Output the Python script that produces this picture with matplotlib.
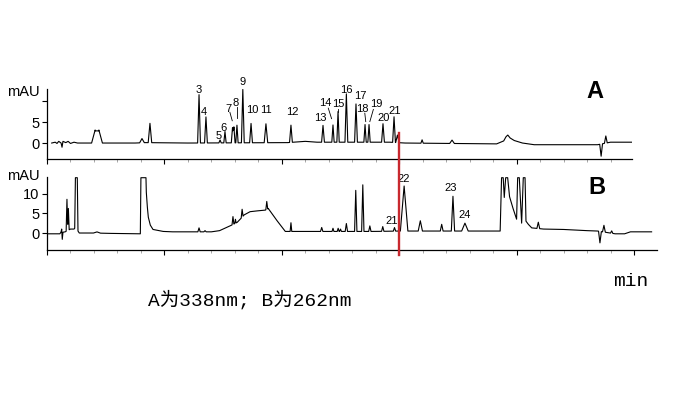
import numpy as np
import matplotlib
matplotlib.use("Agg")
import matplotlib.pyplot as plt
from matplotlib.lines import Line2D
from matplotlib.ticker import MultipleLocator
from matplotlib.transforms import blended_transform_factory

# ---- panel A (338 nm): baseline knots (min, mAU) and peaks (time, height, half width)
a_base_t = [0.40, 0.70, 0.85, 1.00, 1.20, 1.28, 1.36, 1.60, 1.80, 2.00, 2.30, 2.60,
            3.00, 7.50, 8.40, 12.0, 20.5, 22.0, 23.0, 29.2, 30.5, 38.3, 38.9, 39.1,
            39.25, 39.45, 39.8, 40.5, 41.5, 46.9, 48.0, 49.8]
a_base_v = [0.0, 0.2, -0.1, 0.4, 0.0, -1.0, 0.4, 0.1, 0.4, -0.1, 0.2, 0.0,
            0.0, 0.0, 0.1, 0.0, 0.1, 0.4, 0.2, 0.2, 0.0, -0.2, 0.5, 1.5,
            1.9, 1.2, 0.6, 0.0, -0.4, -0.4, 0.2, 0.2]
a_peak_t = [4.10, 4.42, 8.09, 8.77, 12.95, 13.54, 14.74, 15.16, 15.80, 15.92, 16.18,
            16.68, 17.38, 18.65, 20.78, 23.51, 24.36, 24.79, 25.50, 26.32, 27.09,
            27.43, 28.62, 29.56, 29.85, 31.95, 34.50, 47.20, 47.60]
a_peak_h = [3.1, 3.1, 1.0, 4.6, 11.5, 6.2, 0.7, 2.7, 3.6, 3.8, 4.2,
            12.7, 4.6, 4.5, 4.1, 4.0, 4.1, 7.3, 11.5, 9.1, 4.2,
            4.2, 4.4, 6.1, 1.8, 0.8, 0.8, -2.9, 1.7]
a_peak_w = [0.30, 0.30, 0.20, 0.15, 0.12, 0.12, 0.10, 0.10, 0.10, 0.10, 0.10,
            0.12, 0.12, 0.15, 0.12, 0.12, 0.10, 0.10, 0.12, 0.12, 0.10,
            0.10, 0.12, 0.12, 0.15, 0.10, 0.20, 0.12, 0.12]

# ---- panel B (262 nm)
b_base_t = [0.00, 1.10, 1.20, 1.25, 1.30, 1.36, 1.55, 2.00, 2.30, 2.36, 2.42, 2.58,
            2.64, 2.75, 4.00, 5.50, 7.90, 7.95, 8.00, 8.43, 8.46, 8.55, 8.63, 8.80,
            9.03, 9.90, 10.70, 14.00, 14.70, 15.60, 16.20, 16.40, 16.80, 17.30, 17.90,
            18.60, 18.85, 19.60, 20.30, 28.00, 30.00, 38.60, 38.72, 38.86, 38.95,
            39.07, 39.24, 39.40, 39.70, 40.00, 40.09, 40.23, 40.43, 40.57, 40.72,
            40.80, 41.00, 41.29, 42.30, 44.00, 46.00, 46.90, 48.40, 49.20, 49.70, 51.50]
b_base_v = [-0.2, -0.2, 0.3, 1.0, -1.6, 0.2, 0.3, 1.0, 1.0, 1.2, 14.0, 14.0,
            0.5, 0.0, 0.0, -0.1, -0.2, -0.2, 14.0, 14.0, 10.3, 6.5, 4.0, 2.0,
            0.9, 0.4, 0.3, 0.3, 0.6, 1.8, 2.7, 3.3, 4.6, 5.4, 5.6,
            5.8, 6.2, 3.1, 0.4, 0.4, 0.5, 0.5, 14.0, 14.0, 9.0,
            14.0, 14.0, 9.2, 6.2, 3.5, 14.0, 14.0, 2.5, 14.0, 14.0,
            3.0, 2.2, 1.3, 1.0, 0.9, 0.6, 0.5, -0.2, -0.2, 0.3, 0.3]
b_peak_t = [1.70, 1.82, 4.26, 12.95, 13.46, 15.84, 16.05, 16.62, 18.72, 20.78, 23.40,
            24.36, 24.80, 25.00, 25.50, 26.30, 26.90, 27.50, 28.60, 29.60, 30.42,
            31.80, 33.62, 34.58, 35.60, 41.85, 47.10, 47.44, 48.10]
b_peak_h = [8.0, 5.5, 0.3, 1.0, 0.3, 2.0, 1.0, 2.0, 2.0, 2.2, 1.0,
            0.8, 0.8, 0.6, 2.0, 10.4, 11.8, 1.4, 1.2, 0.9, 11.4,
            2.6, 1.7, 8.8, 2.0, 1.6, -2.9, 1.7, 0.6]
b_peak_w = [0.07, 0.07, 0.30, 0.10, 0.10, 0.08, 0.06, 0.08, 0.08, 0.07, 0.10,
            0.08, 0.08, 0.08, 0.10, 0.10, 0.10, 0.10, 0.10, 0.10, 0.32,
            0.18, 0.12, 0.14, 0.28, 0.12, 0.12, 0.12, 0.10]

# peak numbers
a_labels = ["3", "4", "5", "6", "7", "8", "9", "10", "11", "12", "13", "14", "15",
            "16", "17", "18", "19", "20", "21"]
b_labels = ["21", "22", "23", "24"]

RED_LINE_T = 29.95


def build_trace(base_t, base_v, peak_t, peak_h, peak_w):
    pts = set(base_t)
    for t, w in zip(peak_t, peak_w):
        pts.update([t - w, t, t + w])
    tt = np.array(sorted(p for p in pts if base_t[0] <= p <= base_t[-1]))
    vv = np.interp(tt, base_t, base_v)
    for t, h, w in zip(peak_t, peak_h, peak_w):
        vv += np.interp(tt, [t - w, t, t + w], [0, h, 0], left=0, right=0)
    return tt, vv


def style_axes(ax, xmax, ymin, ymax):
    ax.set_xlim(0, xmax)
    ax.set_ylim(ymin, ymax)
    for s in ["top", "right"]:
        ax.spines[s].set_visible(False)
    for s in ["left", "bottom"]:
        ax.spines[s].set_linewidth(0.9)
    ax.xaxis.set_major_locator(MultipleLocator(10))
    ax.xaxis.set_minor_locator(MultipleLocator(2))
    ax.tick_params(axis="x", which="major", length=3.5, width=0.8, labelbottom=False)
    ax.tick_params(axis="x", which="minor", length=2.5, width=0.6, color="#999999")
    ax.tick_params(axis="y", which="major", length=3.5, width=0.8, pad=2,
                   labelsize=10.5)
    ax.set_yticks([0, 5, 10])
    ax.patch.set_visible(False)


plt.rcParams["font.family"] = ["Liberation Sans", "DejaVu Sans"]
fig = plt.figure(figsize=(6.9, 4.0), dpi=100)
ax_a = fig.add_axes([47 / 690, 241 / 400, 585 / 690, 70 / 400])
ax_b = fig.add_axes([47 / 690, 150 / 400, 610 / 690, 73 / 400])

ta, va = build_trace(a_base_t, a_base_v, a_peak_t, a_peak_h, a_peak_w)
tb, vb = build_trace(b_base_t, b_base_v, b_peak_t, b_peak_h, b_peak_w)
ax_a.plot(ta, va, color="black", lw=0.8)
ax_b.plot(tb, vb, color="black", lw=0.8)

style_axes(ax_a, 49.83, -3.8, 12.86)
style_axes(ax_b, 51.96, -4.3, 14.18)
ax_a.set_yticklabels(["0", "5", ""])
ax_b.set_yticklabels(["0", "5", "10"])
for ax, y in [(ax_a, 12.2), (ax_b, 14.4)]:
    ax.text(-0.012, y, "mAU", transform=ax.get_yaxis_transform(),
            ha="right", va="center", fontsize=10.5)

# peak labels panel A
a_label_pos = [(12.89, 12.6), (13.37, 7.3), (14.65, 1.7), (15.05, 3.5), (15.44, 8.2),
               (16.10, 9.6), (16.64, 14.5), (17.45, 7.9), (18.63, 7.9), (20.90, 7.5),
               (23.31, 6.0), (23.68, 9.6), (24.82, 9.2), (25.53, 12.7), (26.66, 11.1),
               (26.89, 8.2), (28.02, 9.2), (28.70, 5.9), (29.64, 7.7)]
a_leaders = {"7": ((15.58, 7.3), (15.78, 5.3)), "8": ((16.16, 8.5), (16.16, 6.0)),
             "14": ((23.96, 8.3), (24.24, 5.8)), "15": ((24.82, 8.1), (24.82, 7.4)),
             "18": ((27.07, 7.1), (27.15, 5.1)), "19": ((27.80, 8.0), (27.50, 5.1))}
for lab, (x, y) in zip(a_labels, a_label_pos):
    ax_a.text(x, y, lab, ha="center", va="center", fontsize=8)
    if lab in a_leaders:
        (x0, y0), (x1, y1) = a_leaders[lab]
        ax_a.plot([x0, x1], [y0, y1], color="black", lw=0.6)

b_label_pos = [(29.39, 3.1), (30.41, 13.8), (34.41, 11.5), (35.60, 4.6)]
for lab, (x, y) in zip(b_labels, b_label_pos):
    ax_b.text(x, y, lab, ha="center", va="center", fontsize=8)

fig.text(595 / 690, 1 - 92 / 400, "A", ha="center", va="center", fontsize=17,
         fontweight="bold")
fig.text(597 / 690, 1 - 187 / 400, "B", ha="center", va="center", fontsize=17,
         fontweight="bold")

# red marker line through both traces
trans = blended_transform_factory(ax_b.transData, fig.transFigure)
fig.add_artist(Line2D([RED_LINE_T, RED_LINE_T], [1 - 133 / 400, 1 - 255 / 400],
                      transform=trans, color="#c8282e", lw=1.7))

mono = ["Liberation Mono", "Noto Sans CJK SC"]
fig.text(631 / 690, 1 - 282 / 400, "min", ha="center", va="center", fontsize=14,
         family=mono)
fig.text(250 / 690, 1 - 300 / 400, "A为338nm; B为262nm", ha="center", va="center",
         fontsize=14, family=mono)

fig.savefig("out.png", dpi=100)
